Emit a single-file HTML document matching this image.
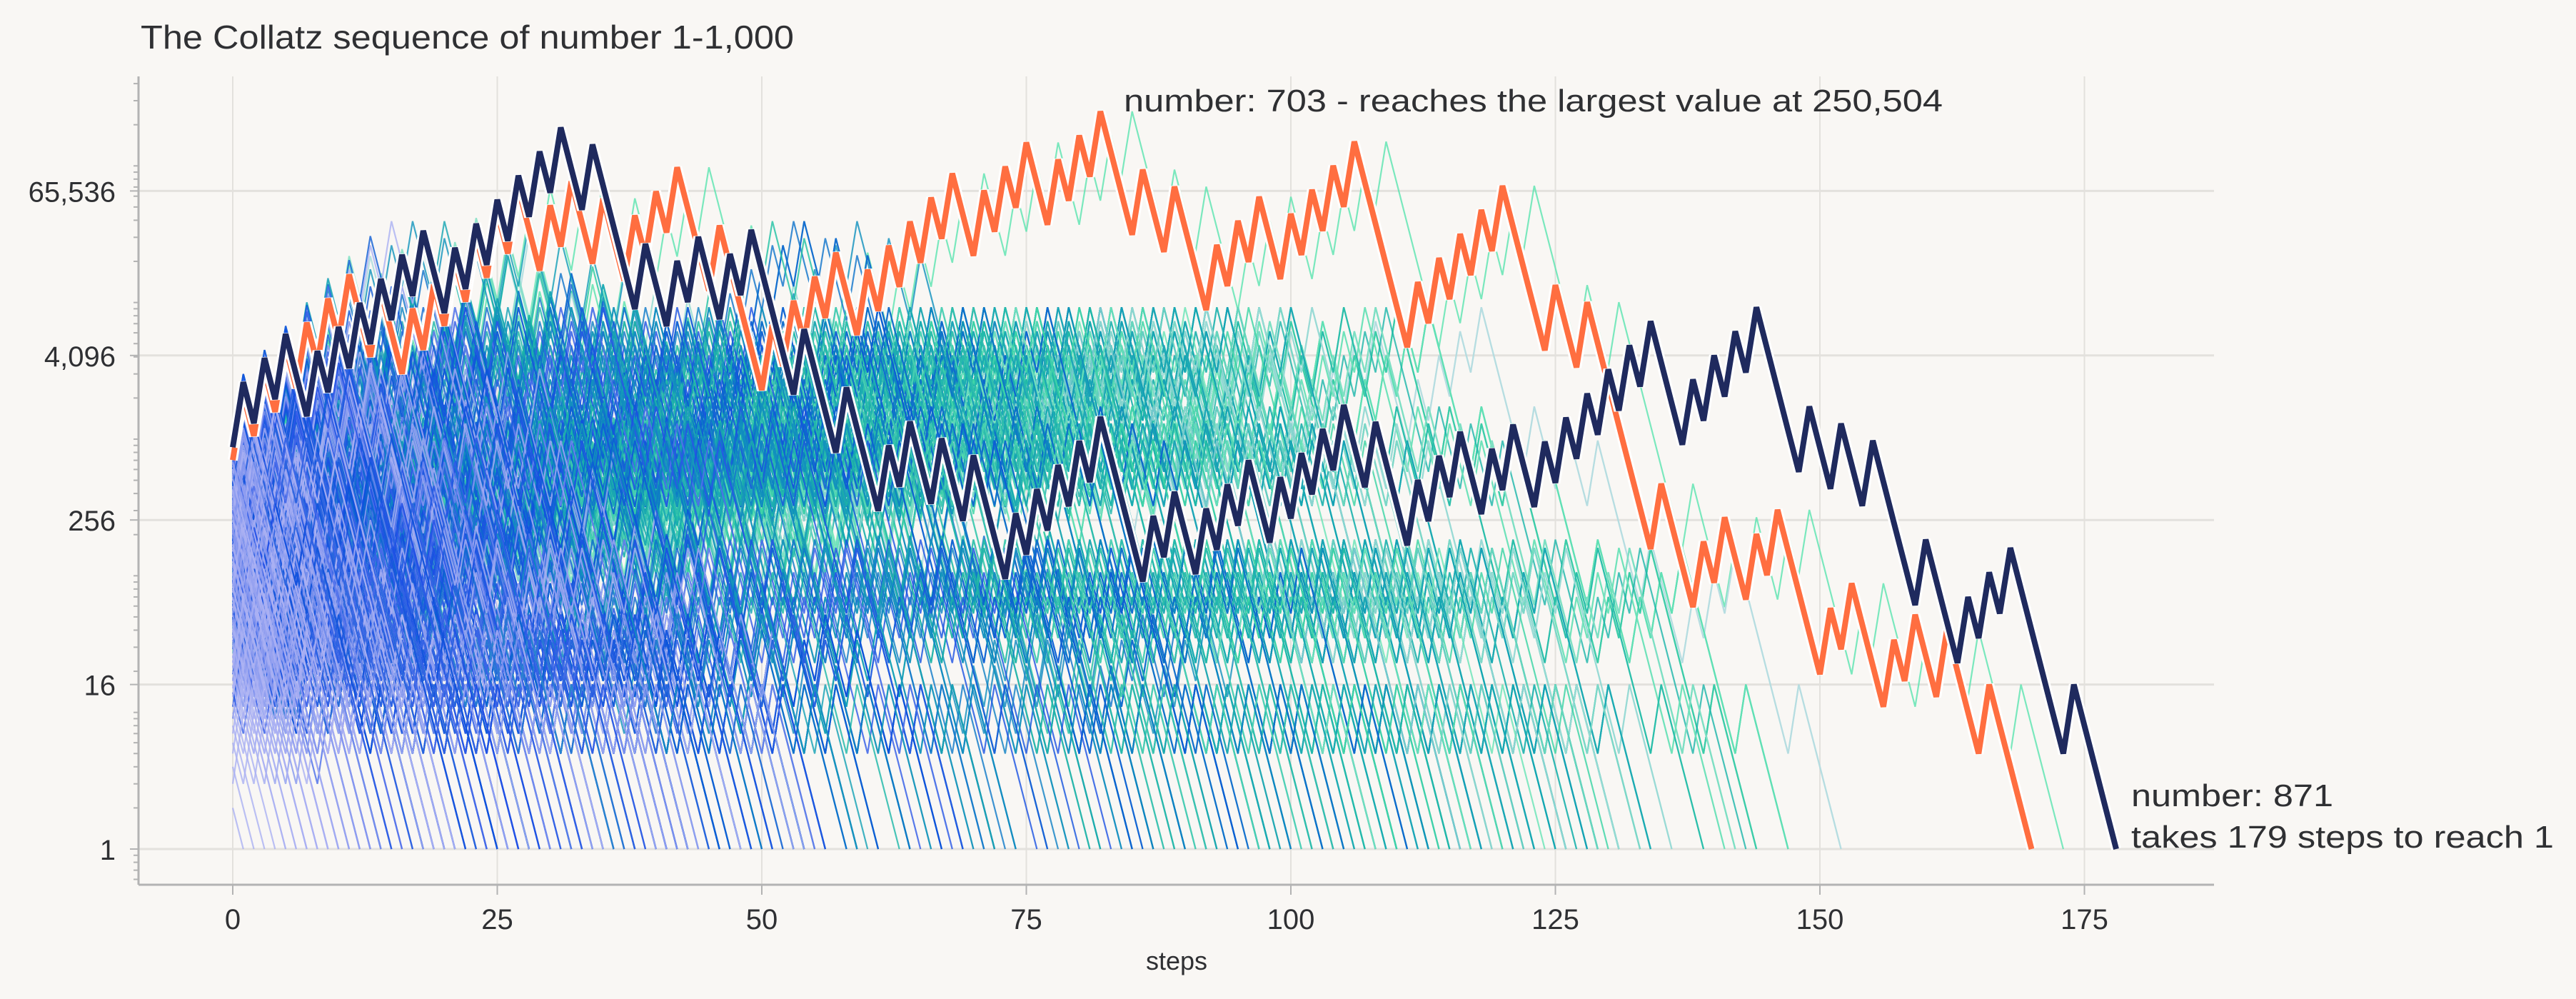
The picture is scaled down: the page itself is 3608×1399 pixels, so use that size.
<!DOCTYPE html>
<html><head><meta charset="utf-8"><style>
html,body{margin:0;padding:0;background:#f9f7f4;}
svg{display:block;font-family:"Liberation Sans",sans-serif;}
</style></head><body>
<svg id="chart" width="3608" height="1399" viewBox="0 0 3608 1399">
<rect width="3608" height="1399" fill="#f9f7f4"/>
<text x="197" y="68" font-size="46" fill="#2f3033" textLength="915" lengthAdjust="spacingAndGlyphs">The Collatz sequence of number 1-1,000</text>
<g id="grid"></g>
<g id="axes"></g>
<g id="lines"></g>
<g id="hl"></g>
<text x="1574" y="156" font-size="44" fill="#2f3033" textLength="1147" lengthAdjust="spacingAndGlyphs">number: 703 - reaches the largest value at 250,504</text>
<text x="2985" y="1129" font-size="44" fill="#2f3033" textLength="283" lengthAdjust="spacingAndGlyphs">number: 871</text>
<text x="2985" y="1187" font-size="44" fill="#2f3033" textLength="592" lengthAdjust="spacingAndGlyphs">takes 179 steps to reach 1</text>
<text x="1648" y="1358" font-size="36" fill="#2f3033" text-anchor="middle">steps</text>
</svg>
<script>
const xTicks = [0, 25, 50, 75, 100, 125, 150, 175];
const yTicks = [1, 16, 256, 4096, 65536];
const yTickLabels = ["1", "16", "256", "4,096", "65,536"];
const startNumbers = [];
for (let n = 1; n <= 1000; n++) startNumbers.push(n);
const highlightNumbers = [703, 871];
const highlightColors = ["#ff6e40", "#1f2a5e"];
const colorStops = [[10, "#aab0f2"], [25, "#1f4fe6"], [55, "#0b55d8"], [85, "#0f9ab8"], [110, "#22c99c"], [130, "#5ee6b0"], [150, "#9bd6d8"], [180, "#b9dde2"]];

const NS = "http://www.w3.org/2000/svg";
const X0 = 326, PX_PER_STEP = 14.82, Y1 = 1189, PX_PER_LOG2 = 57.6;
const xs = s => X0 + s * PX_PER_STEP;
const ys = v => Y1 - Math.log2(v) * PX_PER_LOG2;
const L = 194, R = 3101, T = 107, B = 1239;

function collatz(n) { const a = [n]; while (n !== 1) { n = n % 2 ? 3 * n + 1 : n / 2; a.push(n); } return a; }
function mk(tag, attrs, parent) { const e = document.createElementNS(NS, tag); for (const k in attrs) e.setAttribute(k, attrs[k]); parent.appendChild(e); return e; }
function hex(c) { return [1, 3, 5].map(i => parseInt(c.substr(i, 2), 16)); }
function colorFor(len, n) {
  const l = len < 15 ? len : len + (((n * 0.6180339) % 1) - 0.6) * 90;
  if (l <= colorStops[0][0]) return colorStops[0][1];
  for (let i = 1; i < colorStops.length; i++) {
    if (l <= colorStops[i][0]) {
      const t = (l - colorStops[i - 1][0]) / (colorStops[i][0] - colorStops[i - 1][0]);
      const a = hex(colorStops[i - 1][1]), b = hex(colorStops[i][1]);
      return 'rgb(' + a.map((v, k) => Math.round(v + (b[k] - v) * t)).join(',') + ')';
    }
  }
  return colorStops[colorStops.length - 1][1];
}

const grid = document.getElementById('grid'), axes = document.getElementById('axes');
xTicks.forEach(t => {
  const g = mk('line', {x1: xs(t), x2: xs(t), y1: T, y2: B, stroke: '#e3e1dd', 'stroke-width': 2}, grid);
  
  
  const tk = mk('line', {x1: xs(t), x2: xs(t), y1: B, y2: B + 14, stroke: '#b3b3b3', 'stroke-width': 2}, axes);
  
  
  const lb = mk('text', {x: xs(t), y: B + 62, 'font-size': 40, fill: '#2f3033', 'text-anchor': 'middle'}, axes);
  lb.textContent = t;
  
  
});
yTicks.forEach((t, i) => {
  const g = mk('line', {x1: L, x2: R, y1: ys(t), y2: ys(t), stroke: '#e3e1dd', 'stroke-width': 3}, grid);
  
  
  const tk = mk('line', {x1: L - 12, x2: L, y1: ys(t), y2: ys(t), stroke: '#b3b3b3', 'stroke-width': 2}, axes);
  
  
  const lb = mk('text', {x: 162, y: ys(t) + 15, 'font-size': 40, fill: '#2f3033', 'text-anchor': 'end'}, axes);
  lb.textContent = yTickLabels[i];
  
  
});
for (let p = -1; p <= 6; p++) for (let m = 1; m <= 9; m++) {
  const v = m * Math.pow(10, p); const y = ys(v);
  if (y < T || y > B) continue;
  const tk = mk('line', {x1: L - 7, x2: L, y1: y, y2: y, stroke: '#b3b3b3', 'stroke-width': 2}, axes);
  
  
}
const sp1 = mk('line', {x1: L, x2: L, y1: T, y2: B, stroke: '#b3b3b3', 'stroke-width': 3}, axes);


const sp2 = mk('line', {x1: L, x2: R, y1: B, y2: B, stroke: '#b3b3b3', 'stroke-width': 3}, axes);



function pathFor(seq) { return seq.map((v, i) => (i ? 'L' : 'M') + xs(i).toFixed(1) + ' ' + ys(v).toFixed(1)).join(''); }
const lines = document.getElementById('lines');
const seqs = startNumbers.filter(n => !highlightNumbers.includes(n)).map(n => [n, collatz(n)]);
seqs.sort((a, b) => b[1].length - a[1].length);
seqs.forEach(([n, seq]) => {
  const c = colorFor(seq.length, n);
  const p = mk('path', {d: pathFor(seq), fill: 'none', stroke: c, 'stroke-width': 2.2, 'stroke-opacity': 0.8, 'stroke-linejoin': 'miter'}, lines);
  
  
});
const hl = document.getElementById('hl');
highlightNumbers.forEach((n, i) => {
  const d = pathFor(collatz(n));
  const h = mk('path', {d: d, fill: 'none', stroke: '#ffffff', 'stroke-width': 14, 'stroke-linejoin': 'miter'}, hl);
  
  
  const p = mk('path', {d: d, fill: 'none', stroke: highlightColors[i], 'stroke-width': 8, 'stroke-linejoin': 'miter'}, hl);
  
  
});
</script>
</body></html>
